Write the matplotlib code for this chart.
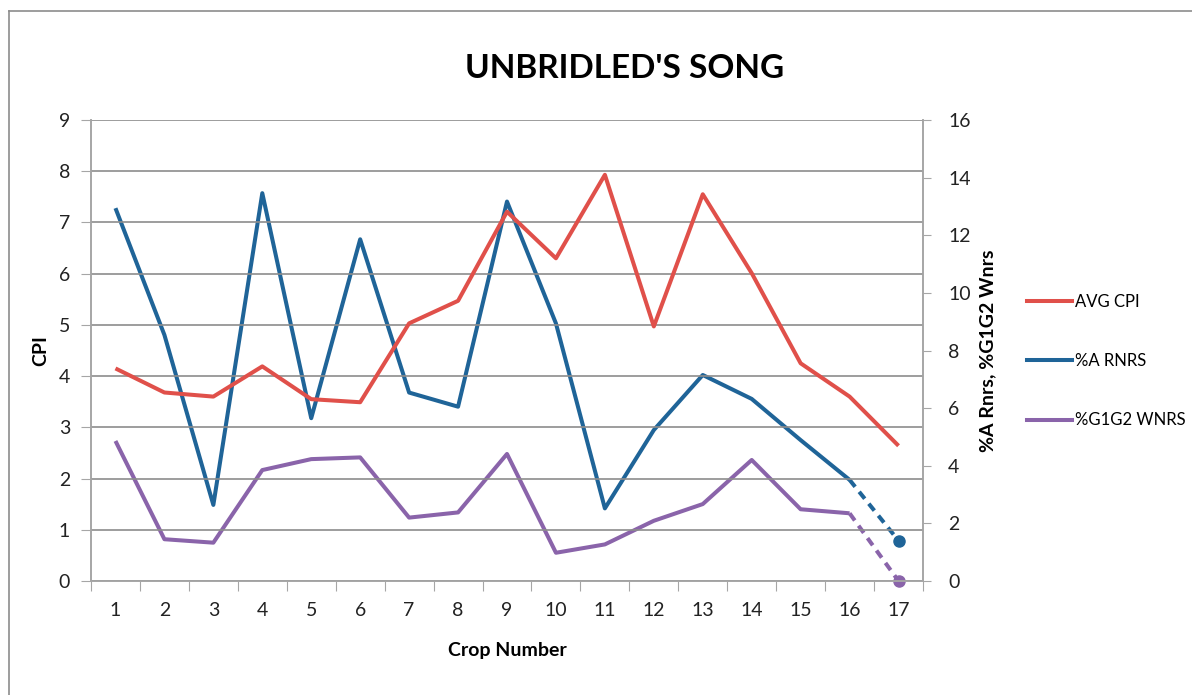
import matplotlib
matplotlib.use("Agg")
import matplotlib.pyplot as plt
from matplotlib.lines import Line2D

plt.rcParams['font.family'] = ['Lato', 'DejaVu Sans']

crops = list(range(1, 18))
avg_cpi = [4.15, 3.68, 3.60, 4.19, 3.55, 3.49, 5.03, 5.47, 7.21, 6.30,
           7.93, 4.97, 7.55, 6.01, 4.25, 3.60, 2.64]
pct_a_rnrs = [12.94, 8.54, 2.64, 13.46, 5.65, 11.86, 6.54, 6.05, 13.17, 8.94,
              2.52, 5.24, 7.15, 6.32, 4.89, 3.51, 1.40]
pct_g1g2_wnrs = [4.86, 1.45, 1.33, 3.85, 4.23, 4.29, 2.20, 2.38, 4.41, 0.98,
                 1.27, 2.09, 2.67, 4.20, 2.49, 2.35, 0.0]

red = '#E0504A'
blue = '#1F6498'
purple = '#8A64AA'
grid_col = '#8C8C8C'
axis_col = '#A6A6A6'

W, H = 1192, 695
fig = plt.figure(figsize=(W / 100, H / 100), dpi=100)
ax = fig.add_axes([91 / W, 1 - 581 / H, (923 - 91) / W, (581 - 120) / H])
ax2 = ax.twinx()

lw = 2.9
ax.plot(crops, avg_cpi, color=red, lw=lw, solid_capstyle='butt', zorder=3)

# last crop is still in progress: dashed segment plus end marker
for vals, col in [(pct_a_rnrs, blue), (pct_g1g2_wnrs, purple)]:
    ax2.plot(crops[:-1], vals[:-1], color=col, lw=lw, solid_capstyle='butt')
    ax2.plot(crops[-2:], vals[-2:], color=col, lw=lw, ls=(0, (2.2, 1.6)))
    ax2.plot(crops[-1], vals[-1], 'o', color=col, ms=8, clip_on=False)

ax.set_zorder(ax2.get_zorder() + 1)
ax.patch.set_visible(False)

ax.set_xlim(0.5, 17.5)
ax.set_ylim(0, 9)
ax2.set_ylim(0, 16)
ax.set_yticks(range(0, 10))
ax2.set_yticks(range(0, 17, 2))

# category ticks between crops, labels centred on each crop
ax.set_xticks([x + 0.5 for x in range(0, 18)])
ax.set_xticklabels([])
ax.set_xticks(crops, minor=True)
ax.set_xticklabels([str(c) for c in crops], minor=True)
ax.tick_params(axis='x', which='major', length=7, color=axis_col, direction='out')
ax.tick_params(axis='x', which='minor', length=0, pad=15, labelsize=14, colors='#222222')
ax.tick_params(axis='y', length=7, color=axis_col, labelsize=14, labelcolor='#222222', pad=8)
ax2.tick_params(axis='y', length=6, color=axis_col, labelsize=14, labelcolor='#222222', pad=12)

ax.yaxis.grid(True, color=grid_col, lw=1.2)
ax.set_axisbelow(True)
for a in (ax, ax2):
    a.spines['top'].set_visible(False)
    for s in ('left', 'right', 'bottom'):
        a.spines[s].set_color(axis_col)
        a.spines[s].set_linewidth(1.2)

ax.set_ylabel('CPI', fontsize=14, fontweight='bold', labelpad=7)
ax2.set_ylabel('%A Rnrs, %G1G2 Wnrs', fontsize=14, fontweight='bold', labelpad=6)
ax.set_xlabel('Crop Number', fontsize=14, fontweight='bold', labelpad=17)

fig.text(625 / W, 1 - 68 / H, "UNBRIDLED'S SONG", fontsize=24, fontweight='bold',
         ha='center', va='center')

handles = [Line2D([], [], color=red, lw=lw),
           Line2D([], [], color=blue, lw=lw),
           Line2D([], [], color=purple, lw=lw)]
fig.legend(handles, ['AVG CPI', '%A RNRS', '%G1G2 WNRS'], loc='center left',
           bbox_to_anchor=(1012 / W, 1 - 361 / H), frameon=False, fontsize=12,
           handlelength=2.7, handletextpad=0.15, labelspacing=2.6)

# chart area frame
fig.add_artist(Line2D([9 / W, 9 / W], [0, 1 - 11 / H], color='#8C8C8C', lw=1.2))
fig.add_artist(Line2D([9 / W, 1], [1 - 11 / H, 1 - 11 / H], color='#8C8C8C', lw=1.2))

fig.savefig('out.png', dpi=100, facecolor='white')
